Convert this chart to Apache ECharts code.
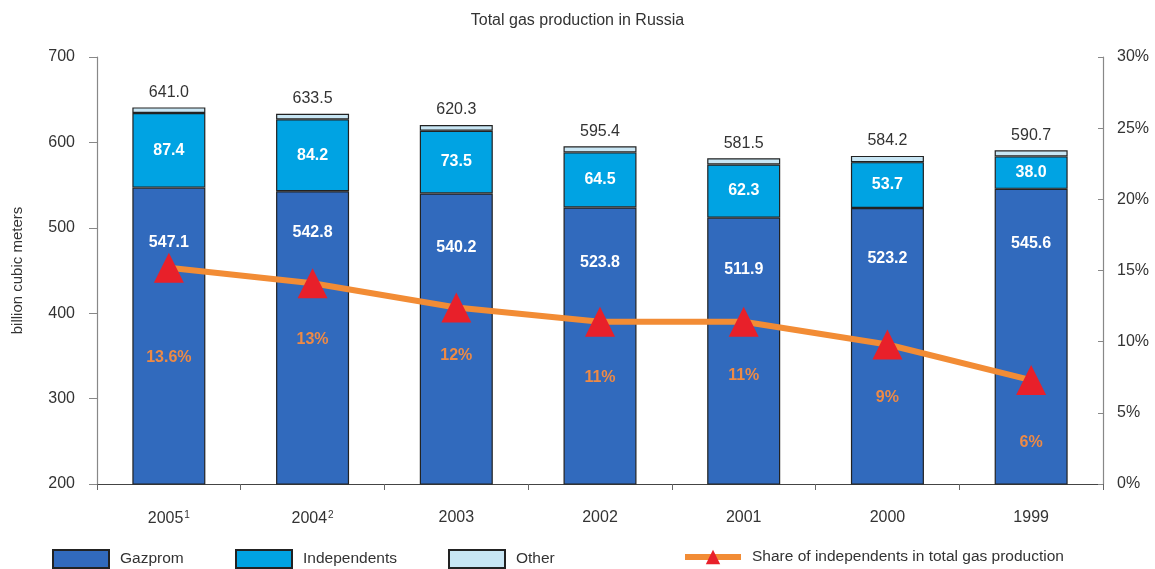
<!DOCTYPE html>
<html>
<head>
<meta charset="utf-8">
<script src="https://cdn.jsdelivr.net/npm/echarts@6/dist/echarts.min.js"></script>
<style>html,body{margin:0;padding:0;background:#fff}#c{width:1155px;height:569px}</style>
</head>
<body>
<div id="c"></div>
<script>
// ---- data ----
var years = ['2005', '2004', '2003', '2002', '2001', '2000', '1999'];
var footnotes = ['1', '2', '', '', '', '', ''];
var gazprom = [547.1, 542.8, 540.2, 523.8, 511.9, 523.2, 545.6];
var independents = [87.4, 84.2, 73.5, 64.5, 62.3, 53.7, 38.0];
var other = [6.5, 6.5, 6.6, 7.1, 7.3, 7.3, 7.1];
var totals = ['641.0', '633.5', '620.3', '595.4', '581.5', '584.2', '590.7'];
var sharePoint = [15.2, 14.1, 12.4, 11.4, 11.4, 9.8, 7.3];
var shareText = ['13.6%', '13%', '12%', '11%', '11%', '9%', '6%'];
var leftTicks = [200, 700, 100];
var rightTicks = [0, 30, 5];

// ---- styling ----
var FONT = '"Liberation Sans", Arial, sans-serif';
var C_GAZ = '#316ABD', C_IND = '#00A3E3', C_OTH = '#C8E6F4';
var C_LINE = '#F28C35', C_TRI = '#E8202A', C_PCT = '#EE8A45';
var shareGap = [67, 33, 25, 33, 31, 30, 39];
var gazGap = [47, 33, 46, 47, 44, 43, 47];

var chart = echarts.init(document.getElementById('c'), null, {renderer: 'canvas'});
var border = {borderColor: '#222', borderWidth: 1.2};

var option = {
  animation: false,
  textStyle: {fontFamily: FONT},
  title: {
    text: 'Total gas production in Russia', left: 'center', top: 8,
    textStyle: {fontFamily: FONT, fontSize: 16, fontWeight: 'normal', color: '#333'}
  },
  grid: {left: 97, right: 52, top: 57, bottom: 85},
  legend: [
    {data: ['Gazprom'], left: 52, icon: 'rect'},
    {data: ['Independents'], left: 235, icon: 'rect'},
    {data: ['Other'], left: 448, icon: 'rect'},
    {data: ['Share of independents in total gas production'], left: 682}
  ].map(function (l) {
    return Object.assign(l, {
      top: 549, padding: 0, itemWidth: 56, itemHeight: 18, itemGap: 0,
      lineStyle: {width: 6},
      textStyle: {fontFamily: FONT, fontSize: 15.5, color: '#333', padding: [0, 0, 2, 6]}
    });
  }),
  xAxis: {
    type: 'category', data: years,
    axisLine: {lineStyle: {color: '#444', width: 1.2}},
    axisTick: {show: true, alignWithLabel: false, length: 6, lineStyle: {color: '#666'}},
    axisLabel: {
      margin: 26, color: '#333', fontSize: 16, fontFamily: FONT,
      formatter: function (v, i) { return v + (footnotes[i] ? '{s|' + footnotes[i] + '}' : ''); },
      rich: {s: {fontSize: 10, verticalAlign: 'top', padding: [0, 0, 8, 1], color: '#333'}}
    }
  },
  yAxis: [
    {
      type: 'value', min: leftTicks[0], max: leftTicks[1], interval: leftTicks[2],
      name: 'billion cubic meters', nameLocation: 'middle', nameGap: 72, nameRotate: 90,
      nameTextStyle: {fontFamily: FONT, fontSize: 15, color: '#333'},
      axisLine: {show: true, lineStyle: {color: '#888', width: 1.2}},
      axisTick: {show: true, length: 8, lineStyle: {color: '#888'}},
      axisLabel: {color: '#333', fontSize: 16, fontFamily: FONT, margin: 22},
      splitLine: {show: false}
    },
    {
      type: 'value', min: rightTicks[0], max: rightTicks[1], interval: rightTicks[2],
      position: 'right',
      axisLine: {show: true, lineStyle: {color: '#888', width: 1.2}},
      axisTick: {show: true, inside: true, length: 5, lineStyle: {color: '#888'}},
      axisLabel: {color: '#333', fontSize: 16, fontFamily: FONT, margin: 14, formatter: '{value}%'},
      splitLine: {show: false}
    }
  ],
  series: [
    {
      name: 'Gazprom', type: 'bar', stack: 't', barWidth: 73,
      data: gazprom.map(function (v, i) { return {value: v, label: {distance: gazGap[i]}}; }),
      itemStyle: Object.assign({color: C_GAZ}, border),
      label: {show: true, position: 'insideTop', color: '#fff', fontWeight: 'bold',
        fontSize: 16, fontFamily: FONT, formatter: function (p) { return p.value.toFixed(1); }}
    },
    {
      name: 'Independents', type: 'bar', stack: 't', data: independents,
      itemStyle: Object.assign({color: C_IND}, border),
      label: {show: true, position: 'inside', color: '#fff', fontWeight: 'bold',
        fontSize: 16, fontFamily: FONT, formatter: function (p) { return p.value.toFixed(1); }}
    },
    {
      name: 'Other', type: 'bar', stack: 't', data: other,
      itemStyle: Object.assign({color: C_OTH}, border),
      label: {show: true, position: 'top', distance: 7, color: '#333',
        fontSize: 16, fontFamily: FONT, formatter: function (p) { return totals[p.dataIndex]; }}
    },
    {
      name: 'Share of independents in total gas production', type: 'line', yAxisIndex: 1,
      data: sharePoint.map(function (v, i) {
        return {value: v, label: {distance: shareGap[i]}};
      }),
      symbol: 'triangle', symbolSize: 30,
      lineStyle: {color: C_LINE, width: 6},
      itemStyle: {color: C_TRI},
      z: 5,
      label: {show: true, position: 'bottom', color: C_PCT, fontWeight: 'bold', fontSize: 16,
        fontFamily: FONT, formatter: function (p) { return shareText[p.dataIndex]; }}
    }
  ]
};
chart.setOption(option);
</script>
</body>
</html>
